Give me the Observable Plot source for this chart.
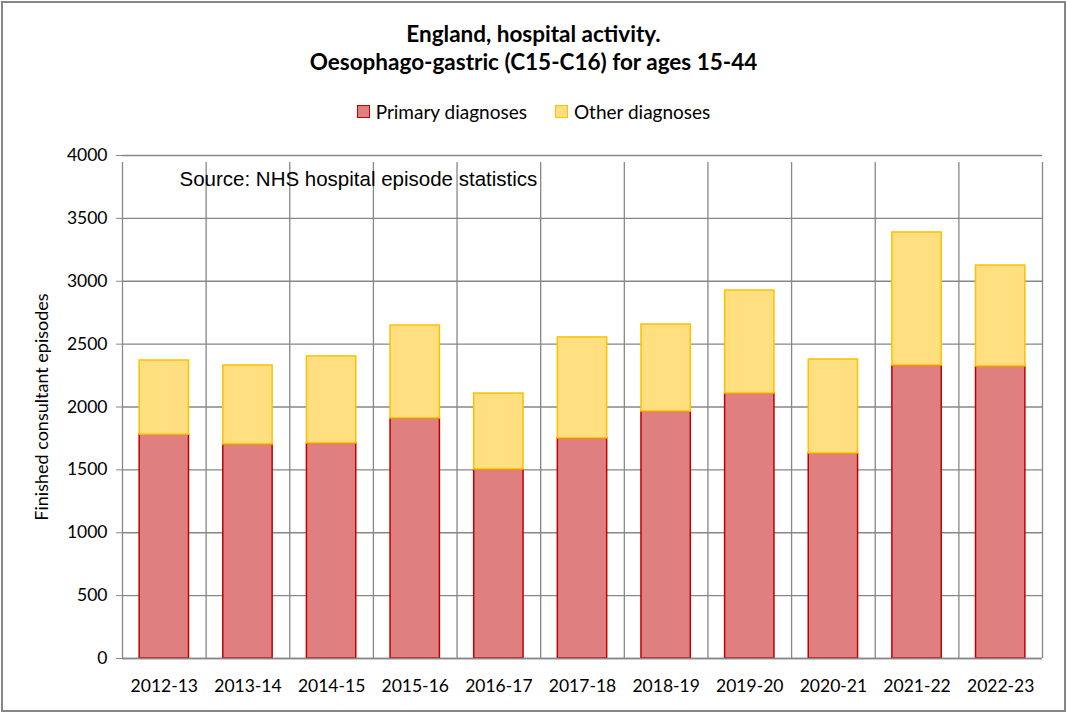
<!DOCTYPE html>
<html>
<head>
<meta charset="utf-8">
<script src="https://cdn.jsdelivr.net/npm/d3@7"></script>
<script src="https://cdn.jsdelivr.net/npm/@observablehq/plot@0.6"></script>
<style>
  html, body { margin: 0; padding: 0; background: #fff; }
  #wrap { position: relative; width: 1067px; height: 713px; overflow: hidden; font-family: Lato, "Open Sans", sans-serif; }
  #border { position: absolute; left: 1px; top: 1px; width: 1061px; height: 707px; border: 2px solid #868686; pointer-events: none; }
  #title { position: absolute; left: 0; top: 20px; width: 1067px; text-align: center; font-weight: bold; font-size: 22.5px; line-height: 28px; color: #000; }
  #legend { position: absolute; left: 0; top: 99px; width: 1067px; text-align: center; font-size: 19px; color: #000; }
  #legend .item { display: inline-flex; align-items: center; margin: 0 14px; }
  #legend .sw { display: inline-block; width: 11px; height: 11px; margin-right: 6px; }
  #chart { position: absolute; left: 0; top: 130px; }
</style>
</head>
<body>
<div id="wrap">
  <div id="title">England, hospital activity.<br>Oesophago-gastric (C15-C16) for ages 15-44</div>
  <div id="legend"></div>
  <div id="chart"></div>
  <div id="border"></div>
</div>
<script>
const years = ["2012-13","2013-14","2014-15","2015-16","2016-17","2017-18","2018-19","2019-20","2020-21","2021-22","2022-23"];
const primary = [1780, 1702, 1710, 1909, 1503, 1750, 1964, 2107, 1630, 2330, 2322];
const other   = [590, 628, 692, 739, 604, 803, 692, 819, 748, 1058, 803];
const yTicks = [0, 500, 1000, 1500, 2000, 2500, 3000, 3500, 4000];
const seriesNames = ["Primary diagnoses", "Other diagnoses"];
const fills = ["#e07f80", "#ffdf80"];
const strokes = ["#c00000", "#ffc000"];

const rows = years.map((y, i) => ({year: y, primary: primary[i], top: primary[i] + other[i]}));

// legend
const leg = document.getElementById("legend");
seriesNames.forEach((n, i) => {
  const s = document.createElement("span");
  s.className = "item";
  s.innerHTML = `<span class="sw" style="background:${fills[i]};border:1px solid ${strokes[i]}"></span>${n}`;
  leg.appendChild(s);
});

const W = 1067, H = 583;
const mL = 122, mR = 25, mT = 25, mB = 55;
const step = (W - mL - mR) / years.length;
const grid = "#878787";

const chart = Plot.plot({
  width: W, height: H,
  marginLeft: mL, marginRight: mR, marginTop: mT, marginBottom: mB,
  style: {fontFamily: "Lato, 'Open Sans', sans-serif", fontSize: "17.5px", color: "#000", background: "transparent", overflow: "visible"},
  x: {type: "band", domain: years, paddingInner: 0.41, paddingOuter: 0.205, round: false, label: null},
  y: {domain: [0, 4000], ticks: yTicks, label: null},
  marks: [
    Plot.gridY(yTicks, {stroke: grid, strokeOpacity: 1, strokeWidth: 1.3}),
    Plot.ruleX(years, {x: d => d, dx: -step / 2, y1: 0, y2: 4000, insetBottom: -7, stroke: grid, strokeWidth: 1.3}),
    Plot.ruleX([years[years.length - 1]], {x: d => d, dx: step / 2, y1: 0, y2: 4000, insetBottom: -7, stroke: grid, strokeWidth: 1.3}),
    Plot.barY(rows, {x: "year", y1: 0, y2: "primary", fill: fills[0], stroke: strokes[0], strokeWidth: 1.5}),
    Plot.barY(rows, {x: "year", y1: "primary", y2: "top", fill: fills[1], stroke: strokes[1], strokeWidth: 1.5}),
    Plot.ruleY([0], {stroke: grid, strokeWidth: 1.3}),
    Plot.axisY({ticks: yTicks, tickFormat: d3.format("d"), tickSize: 6, tickPadding: 9, stroke: grid, fontSize: 17.5, label: null}),
    Plot.text(["Finished consultant episodes"], {frameAnchor: "left", dx: -80, rotate: -90, textAnchor: "middle", lineAnchor: "middle", fontSize: 18, fill: "#000"}),
    Plot.axisX({tickSize: 0, tickPadding: 21, fontSize: 17.5}),
    Plot.text(["Source: NHS hospital episode statistics"], {frameAnchor: "top-left", dx: 57, dy: 16, textAnchor: "start", fontFamily: "'Liberation Sans', Arial, sans-serif", fontSize: 20.5, fill: "#000"})
  ]
});
document.getElementById("chart").appendChild(chart);
</script>
</body>
</html>
